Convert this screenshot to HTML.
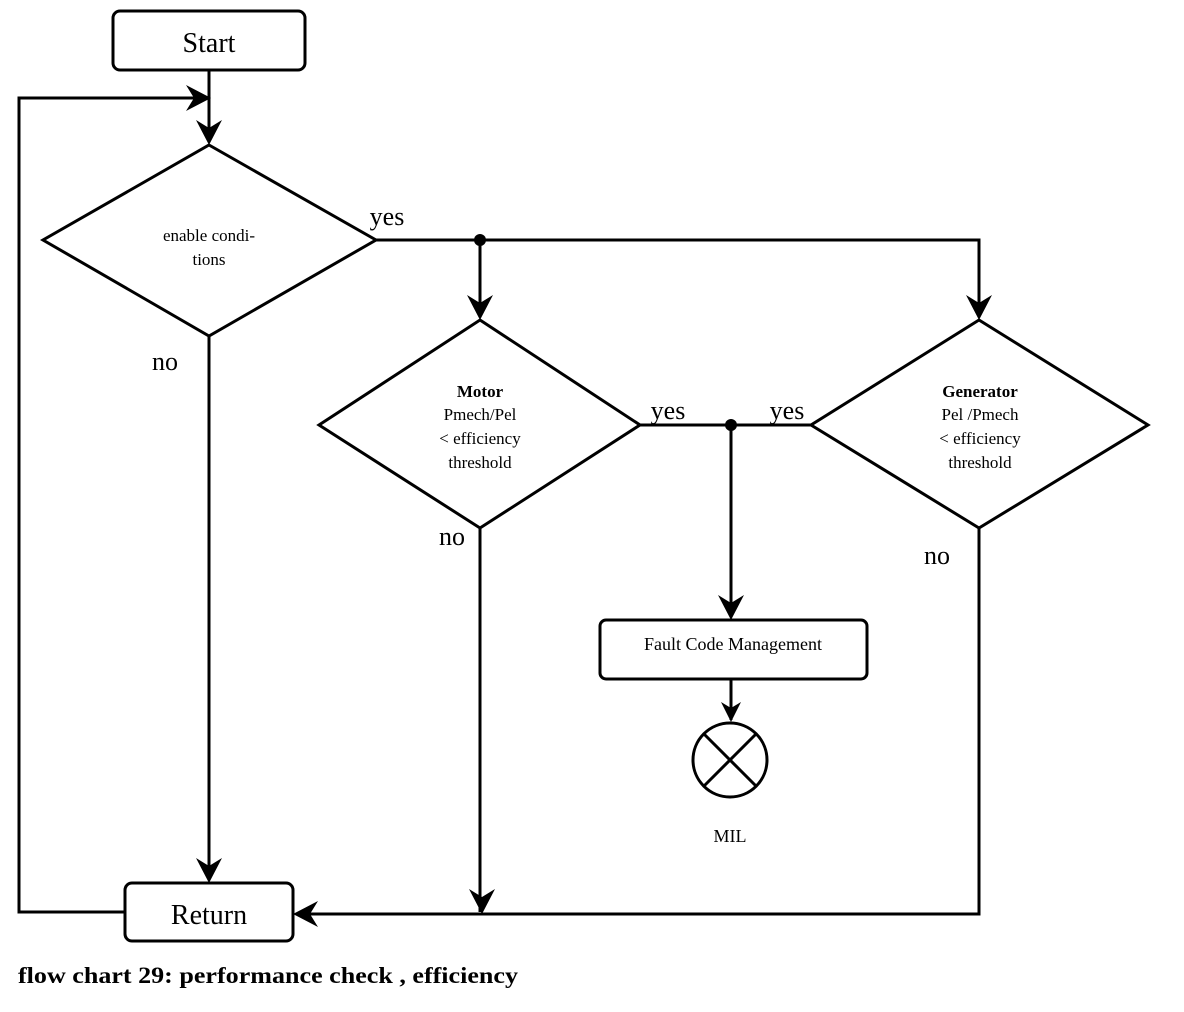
<!DOCTYPE html>
<html><head><meta charset="utf-8"><style>html,body{margin:0;padding:0;background:#fff}svg{display:block}</style></head>
<body>
<svg width="1184" height="1012" viewBox="0 0 1184 1012" xmlns="http://www.w3.org/2000/svg" font-family="Liberation Serif, serif" fill="none" stroke="#000">
<g stroke-width="3">
<rect x="113" y="11" width="192" height="59" rx="7"/>
<rect x="125" y="883" width="168" height="58" rx="7"/>
<rect x="600" y="620" width="267" height="59" rx="6"/>
<polygon points="209,145 376,240 209,336 43,240"/>
<polygon points="480,320 640,425 480,528 319,425"/>
<polygon points="979,320 1148,425 979,528 811,425"/>
<circle cx="730" cy="760" r="37"/>
<line x1="704" y1="734" x2="756" y2="786"/>
<line x1="756" y1="734" x2="704" y2="786"/>
<polyline points="209,70 209,140"/>
<polyline points="125,912 19,912 19,98 205,98"/>
<polyline points="376,240 979,240 979,315"/>
<line x1="480" y1="240" x2="480" y2="315"/>
<line x1="640" y1="425" x2="811" y2="425"/>
<line x1="731" y1="425" x2="731" y2="615"/>
<line x1="731" y1="679" x2="731" y2="720"/>
<line x1="209" y1="336" x2="209" y2="878"/>
<line x1="480" y1="528" x2="480" y2="912"/>
<polyline points="979,528 979,914 298,914"/>
</g>
<g fill="#000" stroke="none">
<circle cx="480" cy="240" r="6"/>
<circle cx="731" cy="425" r="6"/>
<path d="M209,145 l-13,-25 l13,8 l13,-8z"/>
<path d="M211,98 l-25,-13 l8,13 l-8,13z"/>
<path d="M480,320 l-13,-25 l13,8 l13,-8z"/>
<path d="M979,320 l-13,-25 l13,8 l13,-8z"/>
<path d="M731,620 l-13,-25 l13,8 l13,-8z"/>
<path d="M731,722 l-10,-20 l10,6 l10,-6z"/>
<path d="M209,883 l-13,-25 l13,8 l13,-8z"/>
<path d="M482,914 l-13,-25 l13,8 l13,-8z"/>
<path d="M293,914 l25,-13 l-8,13 l8,13z"/>
</g>
<g fill="#000" stroke="none" text-anchor="middle">
<text x="209" y="52" font-size="28">Start</text>
<text x="209" y="924" font-size="28">Return</text>
<text x="209" y="241" font-size="17">enable condi-</text>
<text x="209" y="265" font-size="17">tions</text>
<text x="480" y="397" font-size="17" font-weight="bold">Motor</text>
<text x="480" y="420" font-size="17">Pmech/Pel</text>
<text x="480" y="444" font-size="17">&lt; efficiency</text>
<text x="480" y="468" font-size="17">threshold</text>
<text x="980" y="397" font-size="17" font-weight="bold">Generator</text>
<text x="980" y="420" font-size="17">Pel /Pmech</text>
<text x="980" y="444" font-size="17">&lt; efficiency</text>
<text x="980" y="468" font-size="17">threshold</text>
<text x="733" y="650" font-size="18">Fault Code Management</text>
<text x="730" y="842" font-size="18">MIL</text>
<text x="387" y="225" font-size="26">yes</text>
<text x="668" y="419" font-size="26">yes</text>
<text x="787" y="419" font-size="26">yes</text>
<text x="165" y="370" font-size="26">no</text>
<text x="452" y="545" font-size="26">no</text>
<text x="937" y="564" font-size="26">no</text>
</g>
<text x="18" y="983" font-size="23" font-weight="bold" fill="#000" stroke="none" textLength="500" lengthAdjust="spacingAndGlyphs">flow chart 29: performance check , efficiency</text>
</svg>
</body></html>
